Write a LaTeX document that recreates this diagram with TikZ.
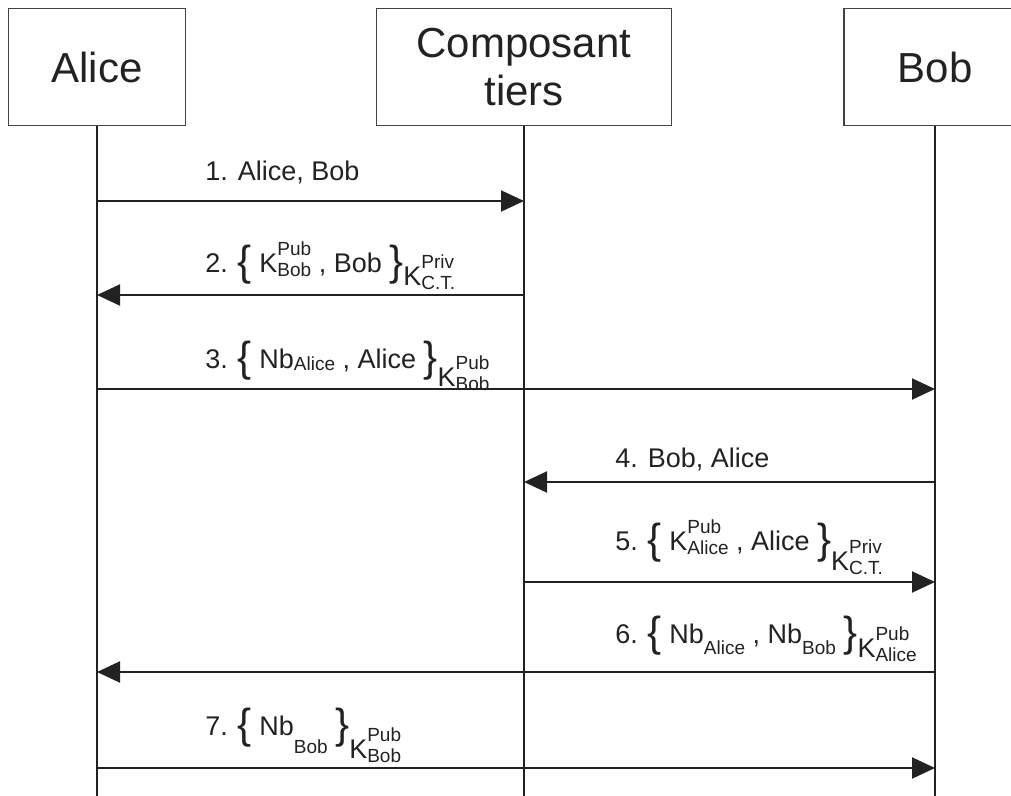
\documentclass[tikz,border=0pt]{standalone}
\usepackage{fontspec}
\setmainfont{Liberation Sans}
\usetikzlibrary{arrows.meta}
\definecolor{ink}{HTML}{222222}

% big braces, stacked indices and lowered keys
\newcommand{\bigbr}[1]{{\fontsize{21}{21}\selectfont\raisebox{-1.5pt}{#1}}}
\newcommand{\stk}[2]{{\fontsize{9.5}{9.5}\selectfont
  \setbox0=\hbox{#1}\setbox2=\hbox{#2}%
  \ifdim\wd0>\wd2 \dimen0=\wd0 \else \dimen0=\wd2 \fi
  \makebox[\dimen0][l]{\rlap{\raisebox{8.5pt}{#1}}\raisebox{-2pt}{#2}}}}
\newcommand{\lowk}[3]{\raisebox{-#1}{K\stk{#2}{#3}}}
\newcommand{\idx}[2][1pt]{\raisebox{-#1}{\fontsize{9.5}{9.5}\selectfont #2}}

\begin{document}
\begin{tikzpicture}[x=0.5pt,y=-0.5pt,
    head/.style={draw=ink!85,line width=0.8pt,minimum height=58.5pt,align=center,
      font=\fontsize{21}{24}\selectfont,text=ink},
    life/.style={draw=ink,line width=1pt},
    msg/.style={draw=ink,line width=1pt,-{Triangle[length=11.5pt,width=10.5pt]}},
    lbl/.style={anchor=base west,inner sep=0pt,font=\fontsize{13.5}{16}\selectfont,text=ink},
  ]
  \useasboundingbox (0,0) rectangle (1011,796);
  \node[head,minimum width=88.5pt] (alice) at (97,67) {Alice};
  \node[head,minimum width=147.5pt] (ct) at (524,67) {Composant\\tiers};
  \node[head,minimum width=91pt] (bob) at (935,67) {Bob};

  \foreach \n in {alice,ct,bob} {
    \draw[life] (\n.south) -- (\n.south |- 0,796);
  }

  \foreach \y/\src/\dst in {201/alice/ct,295/ct/alice,389/alice/bob,482/bob/ct,
                            582/ct/bob,672/bob/alice,768/alice/bob} {
    \draw[msg] (\src |- 0,\y) -- (\dst |- 0,\y);
  }

  \node[lbl] (m1) at (205,181) {1. Alice, Bob};
  \node[lbl] (m2) at (205,273) {2. \bigbr{\{}\ K\stk{Pub}{Bob} , Bob \bigbr{\}}\lowk{6.5pt}{Priv}{C.T.}};
  \node[lbl] (m3) at (205,369) {3. \bigbr{\{} Nb\idx{Alice} , Alice \bigbr{\}}\lowk{9pt}{Pub}{Bob}};
  \node[lbl] (m4) at (615,467) {4. Bob, Alice};
  \node[lbl] (m5) at (615,550) {5. \bigbr{\{} K\stk{Pub}{Alice} , Alice \bigbr{\}}\lowk{10pt}{Priv}{C.T.}};
  \node[lbl] (m6) at (615,643) {6. \bigbr{\{} Nb\idx[5.5pt]{Alice} , Nb\idx[5.5pt]{Bob} \bigbr{\}}\lowk{7pt}{Pub}{Alice}};
  \node[lbl] (m7) at (205,735) {7. \bigbr{\{} Nb\idx[9pt]{Bob} \bigbr{\}}\lowk{11.5pt}{Pub}{Bob}};
\end{tikzpicture}
\end{document}
